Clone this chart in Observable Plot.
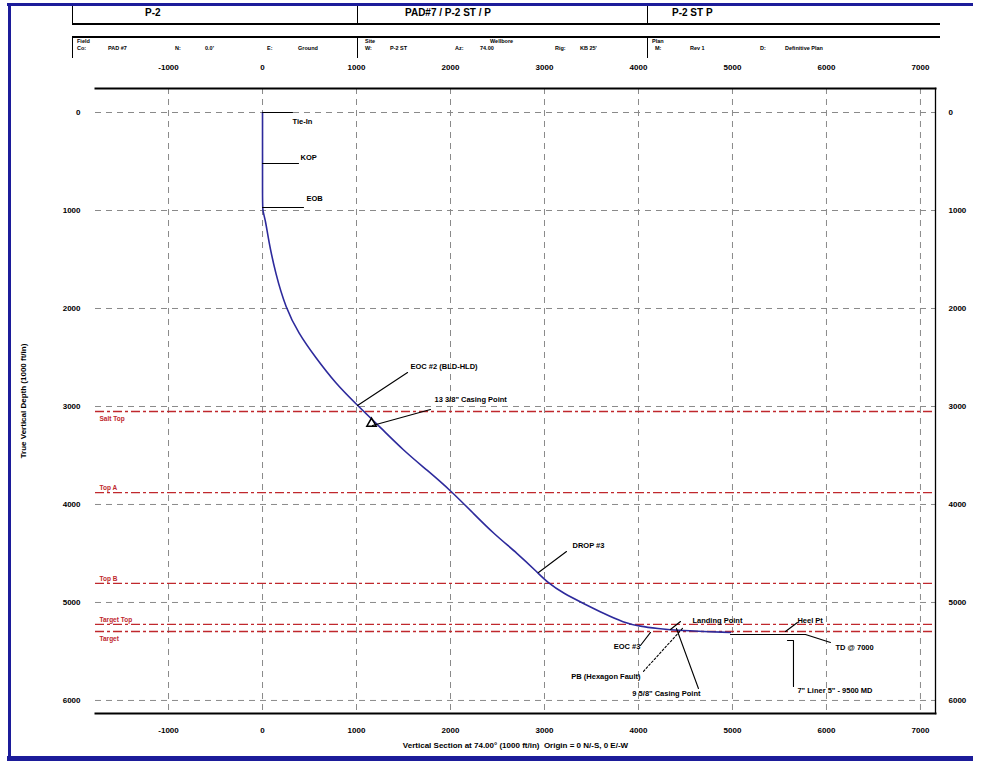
<!DOCTYPE html>
<html><head><meta charset="utf-8">
<script src="https://cdn.jsdelivr.net/npm/d3@7"></script>
<script src="https://cdn.jsdelivr.net/npm/@observablehq/plot@0.6"></script>
<style>
body{margin:0;background:#fff;}
#wrap{position:relative;width:981px;height:764px;overflow:hidden;font-family:"Liberation Sans",Arial,sans-serif;background:#fff;}
#wrap svg{position:absolute;left:0;top:0;}
.ln{position:absolute;background:#000;}
.t{position:absolute;font-weight:bold;white-space:nowrap;color:#000;line-height:1;}
</style></head><body><div id="wrap"></div>
<script>
// ---- data ----
const xTicks = [-1000, 0, 1000, 2000, 3000, 4000, 5000, 6000, 7000];
const yTicks = [0, 1000, 2000, 3000, 4000, 5000, 6000];
// well path: vertical section (ft) and TVD (ft)
const pathVS  = [0, 0, 0, 32, 64, 138, 245, 383, 564, 777, 1011, 1255, 1500, 1755, 2000, 2245, 2457, 2713, 2926, 3032, 3202, 3415, 3628, 3840, 4021, 4202, 4415, 4979];
const pathTVD = [0, 900, 1000, 1100, 1306, 1643, 1990, 2255, 2500, 2765, 2990, 3214, 3449, 3653, 3857, 4092, 4296, 4500, 4694, 4796, 4908, 5010, 5112, 5204, 5245, 5265, 5286, 5306];
// formation tops
const formNames = ["Salt Top", "Top A", "Top B", "Target Top", "Target"];
const formTVD   = [3051, 3878, 4806, 5224, 5296];
const formSide  = ["below", "above", "above", "above", "below"];
// annotations
const annText = ["Tie-In", "KOP", "EOB", "EOC #2 (BLD-HLD)", "13 3/8\" Casing Point", "DROP #3", "EOC #3",
  "PB (Hexagon Fault)", "9 5/8\" Casing Point", "Landing Point", "Heel Pt", "TD @ 7000", "7\" Liner 5\" - 9500 MD"];
const annX = [319, 404, 468, 1574, 1830, 3298, 4021, 4021, 4660, 4574, 5691, 6096, 5691];
const annY = [92, 459, 878, 2592, 2929, 4418, 5449, 5755, 5929, 5184, 5184, 5459, 5898];
const annAnchor = ["start","start","start","start","start","start","end","end","end","start","start","start","start"];
// leader polylines: id, vs, tvd
const leadId  = [1,1, 2,2, 3,3, 4,4, 5,5, 6,6, 7,7, 9,9, 10,10, 11,11, 12,12,12, 13,13,13];
const leadVS  = [0,319, 0,383, 0,436, 1011,1543, 1170,1787, 2936,3234, 4128,4021, 4404,4638, 4340,4447, 5564,5691, 4979,5777,6043, 5585,5649,5649];
const leadTVD = [0,0, 520,520, 969,969, 2990,2653, 3194,3031, 4694,4480, 5306,5439, 5265,5878, 5276,5194, 5296,5204, 5327,5327,5408, 5388,5388,5857];
const dotLeadVS = [4468, 4043];
const dotLeadTVD = [5265, 5714];
const headTitles = ["P-2", "PAD#7 / P-2 ST / P", "P-2 ST P"];

// ---- build tables ----
const path = pathVS.map((v, i) => ({vs: v, tvd: pathTVD[i]}));
const forms = formNames.map((n, i) => ({name: n, tvd: formTVD[i], side: formSide[i]}));
const anns = annText.map((t, i) => ({text: t, vs: annX[i], tvd: annY[i], anchor: annAnchor[i]}));
const leads = leadId.map((id, i) => ({id, vs: leadVS[i], tvd: leadTVD[i]}));
const dotLead = dotLeadVS.map((v, i) => ({vs: v, tvd: dotLeadTVD[i]}));

const wrap = document.getElementById("wrap");
const W = 981, H = 764;
const mT = 88, mB = 51, mL = 95, mR = 46;
const fmt = d => String(d);

const chart = Plot.plot({
  width: W, height: H,
  marginTop: mT, marginBottom: mB, marginLeft: mL, marginRight: mR,
  style: {fontFamily: "'Liberation Sans', Arial, sans-serif", fontSize: "8px", fontWeight: "bold", background: "transparent", color: "#000"},
  x: {domain: [-1777, 7160]},
  y: {domain: [-245, 6133], reverse: true},
  marks: [
    Plot.gridX(xTicks, {stroke: "#8a8a8a", strokeOpacity: 1, strokeDasharray: "6,5", strokeWidth: 1}),
    Plot.gridY(yTicks, {stroke: "#8a8a8a", strokeOpacity: 1, strokeDasharray: "6,5", strokeWidth: 1}),
    Plot.ruleY(forms, {y: "tvd", stroke: "#c0282d", strokeWidth: 1.3, strokeDasharray: "9,3,3,3"}),
    Plot.text(forms.filter(d => d.side === "below"), {y: "tvd", text: "name", frameAnchor: "left", textAnchor: "start", dx: 4,
      dy: 7, fill: "#c0282d", fontSize: 6.5}),
    Plot.text(forms.filter(d => d.side === "above"), {y: "tvd", text: "name", frameAnchor: "left", textAnchor: "start", dx: 4,
      dy: -5, fill: "#c0282d", fontSize: 6.5}),
    Plot.line(path, {x: "vs", y: "tvd", stroke: "#2d2a9c", strokeWidth: 1.6, curve: "basis"}),
    Plot.line(leads, {x: "vs", y: "tvd", z: "id", stroke: "#000", strokeWidth: 1.1}),
    Plot.line(dotLead, {x: "vs", y: "tvd", stroke: "#000", strokeWidth: 1.1, strokeDasharray: "2,2"}),
    Plot.dot([path[10]], {x: "vs", y: "tvd", symbol: "triangle", r: 3.5, fill: "none", stroke: "#000", dx: 14, dy: 18}),
    Plot.text(anns.filter(d => d.anchor === "start"), {x: "vs", y: "tvd", text: "text", textAnchor: "start", fontSize: 7.5, fontWeight: "bold"}),
    Plot.text(anns.filter(d => d.anchor === "end"), {x: "vs", y: "tvd", text: "text", textAnchor: "end", fontSize: 7.5, fontWeight: "bold"}),
    Plot.axisX(xTicks, {anchor: "top", tickSize: 0, tickPadding: 19, tickFormat: fmt, label: null}),
    Plot.axisX(xTicks, {anchor: "bottom", tickSize: 0, tickPadding: 14, tickFormat: fmt,
      label: "Vertical Section at 74.00\u00b0 (1000 ft/in)  Origin = 0 N/-S, 0 E/-W", labelAnchor: "center", labelOffset: 34, labelArrow: "none"}),
    Plot.axisY(yTicks, {anchor: "left", tickSize: 0, tickPadding: 15, tickFormat: fmt,
      label: "True Vertical Depth (1000 ft/in)", labelAnchor: "center", labelOffset: 75, labelArrow: "none"}),
    Plot.axisY(yTicks, {anchor: "right", tickSize: 0, tickPadding: 13, tickFormat: fmt, label: null}),
    Plot.frame({anchor: "top", stroke: "#000", strokeWidth: 2}),
    Plot.frame({anchor: "bottom", stroke: "#000", strokeWidth: 2}),
    Plot.frame({anchor: "right", stroke: "#000", strokeWidth: 1.3})
  ]
});
wrap.appendChild(chart);

// ---- header table (HTML) ----
function line(x, y, w, h) {
  const d = document.createElement("div"); d.className = "ln";
  Object.assign(d.style, {left: x + "px", top: y + "px", width: w + "px", height: h + "px"});
  wrap.appendChild(d);
}
function txt(s, x, y, size) {
  const d = document.createElement("div"); d.className = "t"; d.textContent = s;
  Object.assign(d.style, {left: x + "px", top: y + "px", fontSize: size + "px"});
  wrap.appendChild(d);
}
// outer blue border
const blue = "#1c1c9a";
[[7, 3, 966, 3], [8, 3, 3, 758], [7, 756, 966, 5]].forEach(([x, y, w, h]) => {
  const d = document.createElement("div");
  Object.assign(d.style, {position: "absolute", left: x + "px", top: y + "px", width: w + "px", height: h + "px", background: blue});
  wrap.appendChild(d);
});
// row 1
line(72, 6, 1, 18); line(357, 6, 1, 18); line(647, 6, 1, 18);
line(72, 23, 868, 2);
txt(headTitles[0], 145, 8, 10); txt(headTitles[1], 405, 8, 10); txt(headTitles[2], 672, 8, 10);
// row 2
line(72, 36, 868, 2);
line(72, 37, 1, 21); line(357, 37, 1, 21); line(647, 37, 1, 21);
txt("Field", 77, 39, 5.5); txt("Site", 365, 39, 5.5); txt("Wellbore", 490, 39, 5.5); txt("Plan", 652, 39, 5.5);
const row2 = [["Co:", 77], ["PAD #7", 108], ["N:", 175], ["0.0'", 205], ["E:", 267], ["Ground", 298],
  ["W:", 365], ["P-2 ST", 390], ["Az:", 455], ["74.00", 480], ["Rig:", 555], ["KB 25'", 580],
  ["M:", 655], ["Rev 1", 690], ["D:", 760], ["Definitive Plan", 785]];
row2.forEach(([s, x]) => txt(s, x, 46, 5.5));
</script></body></html>
